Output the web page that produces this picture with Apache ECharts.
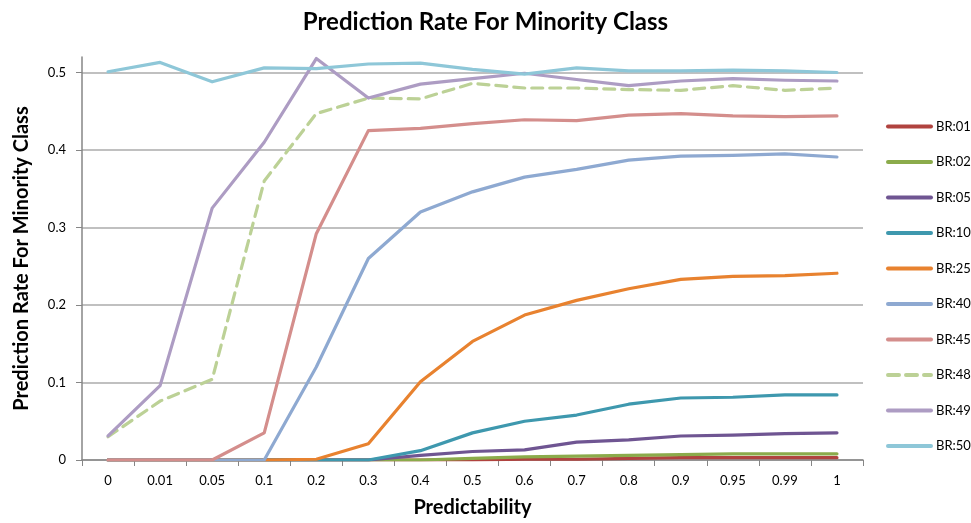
<!DOCTYPE html>
<html>
<head>
<meta charset="utf-8">
<title>Prediction Rate For Minority Class</title>
<script src="https://cdn.jsdelivr.net/npm/echarts@6/dist/echarts.min.js"></script>
<style>
    html, body { margin: 0; padding: 0; background: #fff; }
    #main { width: 971px; height: 523px; }
</style>
</head>
<body>
<div id="main"></div>
<script>
// x categories (predictability)
var categories = ['0', '0.01', '0.05', '0.1', '0.2', '0.3', '0.4', '0.5', '0.6', '0.7', '0.8', '0.9', '0.95', '0.99', '1'];

// one array per base rate
var br01 = [0, 0, 0, 0, 0, 0, 0, 0, 0.001, 0.001, 0.002, 0.003, 0.003, 0.003, 0.003];
var br02 = [0, 0, 0, 0, 0, 0, 0, 0.002, 0.004, 0.005, 0.006, 0.007, 0.008, 0.008, 0.008];
var br05 = [0, 0, 0, 0, 0, 0, 0.006, 0.011, 0.013, 0.023, 0.026, 0.031, 0.032, 0.034, 0.035];
var br10 = [0, 0, 0, 0, 0, 0, 0.012, 0.035, 0.05, 0.058, 0.072, 0.08, 0.081, 0.084, 0.084];
var br25 = [0, 0, 0, 0, 0.001, 0.021, 0.101, 0.153, 0.187, 0.206, 0.221, 0.233, 0.237, 0.238, 0.241];
var br40 = [0, 0, 0, 0, 0.12, 0.26, 0.32, 0.346, 0.365, 0.375, 0.387, 0.392, 0.393, 0.395, 0.391];
var br45 = [0, 0, 0, 0.035, 0.292, 0.425, 0.428, 0.434, 0.439, 0.438, 0.445, 0.447, 0.444, 0.443, 0.444];
var br48 = [0.03, 0.076, 0.104, 0.36, 0.447, 0.467, 0.466, 0.486, 0.48, 0.48, 0.478, 0.477, 0.483, 0.477, 0.48];
var br49 = [0.031, 0.096, 0.325, 0.41, 0.518, 0.467, 0.485, 0.492, 0.499, 0.491, 0.483, 0.489, 0.492, 0.49, 0.489];
var br50 = [0.501, 0.513, 0.488, 0.506, 0.505, 0.511, 0.512, 0.504, 0.498, 0.506, 0.502, 0.502, 0.503, 0.502, 0.5];

var seriesNames = ['BR:01', 'BR:02', 'BR:05', 'BR:10', 'BR:25', 'BR:40', 'BR:45', 'BR:48', 'BR:49', 'BR:50'];
var seriesData = [br01, br02, br05, br10, br25, br40, br45, br48, br49, br50];
var colors = ['#b0433f', '#8bab4b', '#6f5592', '#3e98ae', '#e8822f', '#8ea9d1', '#d48e8c', '#bcd196', '#ad9cc3', '#8ec7d8'];

var yTicks = [0, 0.1, 0.2, 0.3, 0.4, 0.5];

function buildChart(id) {
    var $e = echarts.init(document.getElementById(id));
    var font = 'Lato, "Liberation Sans", sans-serif';
    var series = [];
    for (var i = 0; i < seriesNames.length; i++) {
        series.push({
            name: seriesNames[i],
            type: 'line',
            data: seriesData[i],
            symbol: 'none',
            smooth: false,
            lineStyle: {
                width: 3.2,
                color: colors[i],
                type: seriesNames[i] === 'BR:48' ? [11, 7] : 'solid',
                cap: 'round',
                join: 'round'
            },
            itemStyle: { color: colors[i] }
        });
    }
    var option = {
        animation: false,
        title: {
            text: 'Prediction Rate For Minority Class',
            left: 'center',
            top: 5,
            textStyle: { fontFamily: font, fontSize: 24, fontWeight: 'bold', color: '#000' }
        },
        grid: { left: 82, right: 108, top: 57, bottom: 62 },
        legend: {
            orient: 'vertical',
            left: 881,
            top: 115,
            itemWidth: 43,
            itemHeight: 14,
            itemGap: 22.5,
            // hide the marker dot, keep only the line
            itemStyle: { opacity: 0 },
            lineStyle: { width: 4 },
            data: seriesNames,
            textStyle: { fontFamily: font, fontSize: 13, color: '#000' }
        },
        xAxis: {
            type: 'category',
            data: categories,
            boundaryGap: true,
            name: 'Predictability',
            nameLocation: 'middle',
            nameGap: 38,
            nameTextStyle: { fontFamily: font, fontSize: 20, fontWeight: 'bold', color: '#000' },
            axisLine: { lineStyle: { color: '#868686', width: 1.5 } },
            axisTick: { show: true, length: 6, alignWithLabel: false, lineStyle: { color: '#868686' } },
            axisLabel: { fontFamily: font, fontSize: 13, color: '#000', margin: 14 },
            splitLine: { show: false }
        },
        yAxis: {
            type: 'value',
            min: 0,
            max: 0.52,
            interval: 0.1,
            name: 'Prediction Rate For Minority Class',
            nameLocation: 'middle',
            nameGap: 50,
            nameTextStyle: { fontFamily: font, fontSize: 20, fontWeight: 'bold', color: '#000' },
            axisLine: { show: true, lineStyle: { color: '#868686', width: 1.5 } },
            axisTick: { show: true, length: 6, lineStyle: { color: '#868686' } },
            axisLabel: {
                fontFamily: font, fontSize: 13, color: '#000', margin: 16,
                showMaxLabel: false,
                formatter: function (v) {
                    return yTicks.indexOf(Math.round(v * 10) / 10) >= 0 && v <= 0.5 ? String(Math.round(v * 10) / 10) : '';
                }
            },
            splitLine: { show: true, showMaxLine: false, lineStyle: { color: '#ababab', width: 1.5 } }
        },
        series: series
    };
    $e.setOption(option);
    window.onresize = function () {
        $e.resize();
    };
}

buildChart('main');
</script>
</body>
</html>
